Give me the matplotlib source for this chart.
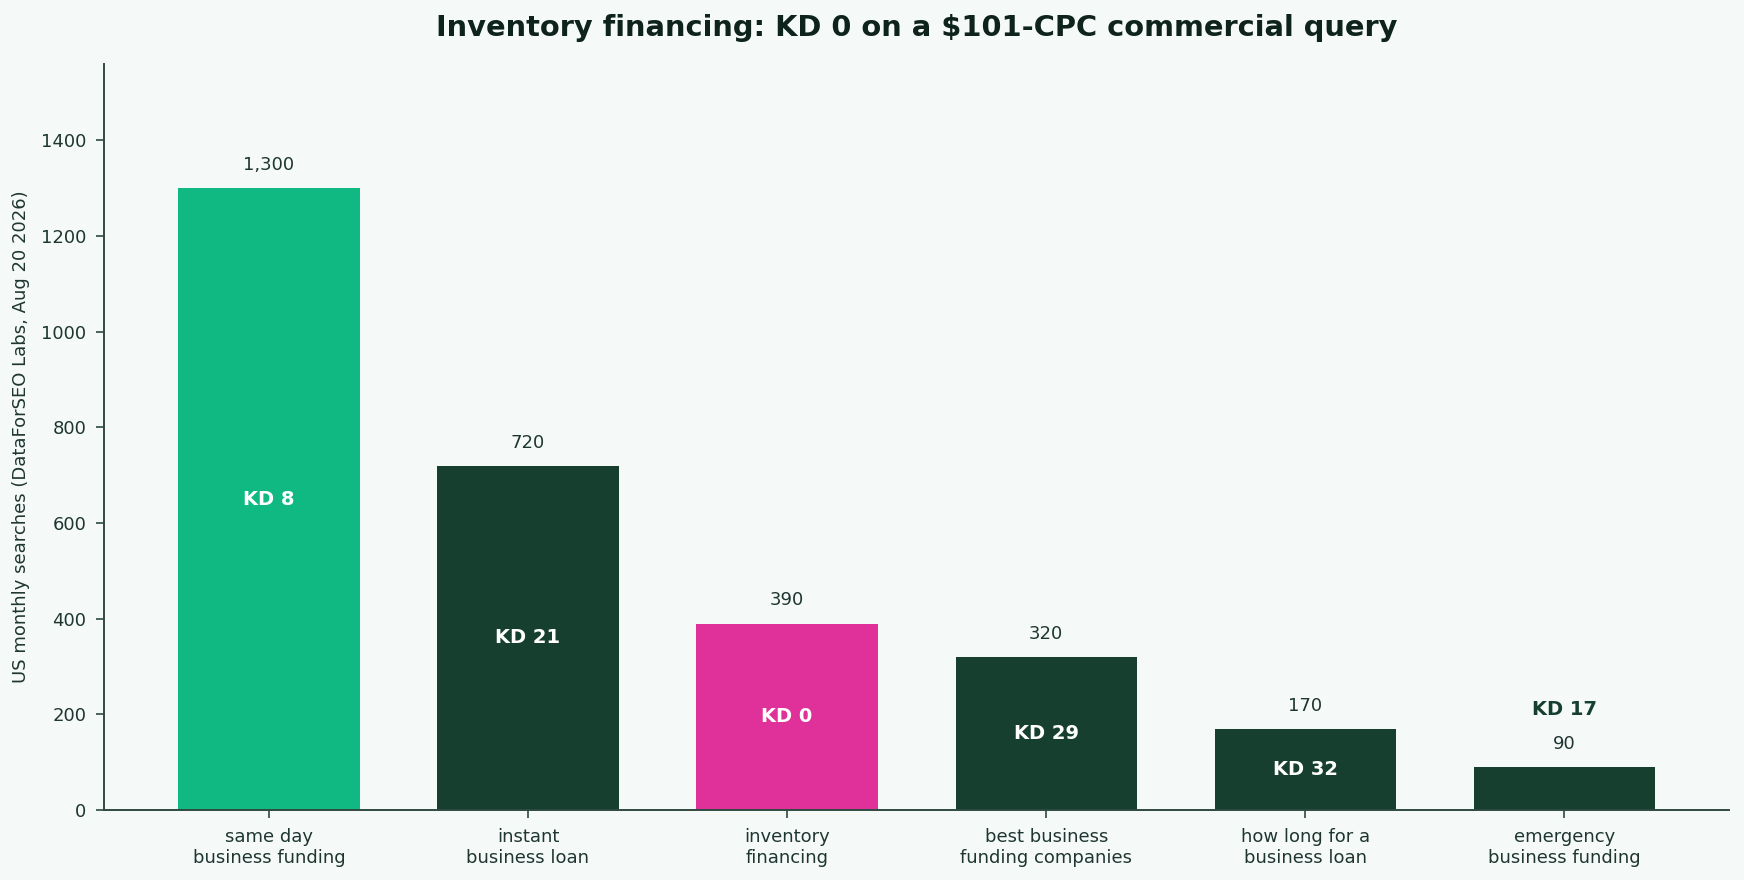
import matplotlib
matplotlib.use("Agg")
import matplotlib.pyplot as plt
import numpy as np

# Data
keywords = [
    "same day\nbusiness funding",
    "instant\nbusiness loan",
    "inventory\nfinancing",
    "best business\nfunding companies",
    "how long for a\nbusiness loan",
    "emergency\nbusiness funding",
]
searches = [1300, 720, 390, 320, 170, 90]
kd = [8, 21, 0, 29, 32, 17]
bar_colors = ["#10b981", "#173f2f", "#e0309a", "#173f2f", "#173f2f", "#173f2f"]

bg = "#f5faf9"
ink = "#1f3630"

fig, ax = plt.subplots(figsize=(8.72, 4.4), dpi=200)
fig.patch.set_facecolor(bg)
ax.set_facecolor(bg)
fig.subplots_adjust(left=0.0598, right=0.9914, bottom=0.0795, top=0.9273)

x = np.arange(len(keywords))
ax.bar(x, searches, width=0.7, color=bar_colors)

ymax = max(searches) * 1.2
ax.set_ylim(0, ymax)

for xi, v, k in zip(x, searches, kd):
    ax.text(xi, v + ymax * 0.031, f"{v:,}", ha="center", va="center",
            fontsize=6.5, color=ink)
    if v > ymax * 0.1:
        ax.text(xi, v / 2, f"KD {k}", ha="center", va="center",
                fontsize=7, color="white", fontweight="bold")
    else:
        ax.text(xi, v + ymax * 0.077, f"KD {k}", ha="center", va="center",
                fontsize=7, color="#173f2f", fontweight="bold")

ax.set_xticks(x)
ax.set_xticklabels(keywords, fontsize=6.5, color=ink)
ax.tick_params(axis="y", labelsize=6.5, labelcolor=ink, color="#2f4a42", length=3, width=0.6)
ax.tick_params(axis="x", color="#2f4a42", length=3, width=0.6)
ax.set_ylabel("US monthly searches (DataForSEO Labs, Aug 20 2026)", fontsize=6.5, color=ink)
ax.set_title("Inventory financing: KD 0 on a $101-CPC commercial query",
             fontsize=10.4, fontweight="bold", color="#0f231d", pad=10)

for s in ["top", "right"]:
    ax.spines[s].set_visible(False)
for s in ["left", "bottom"]:
    ax.spines[s].set_color("#2f4a42")
    ax.spines[s].set_linewidth(0.7)

fig.savefig("out.png", dpi=200, facecolor=bg)
